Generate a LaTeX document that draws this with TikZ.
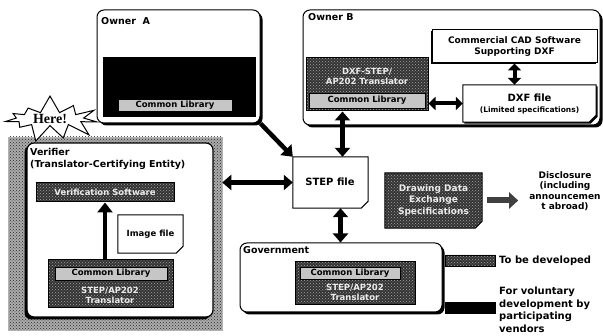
\documentclass[tikz,border=0pt]{standalone}
\usepackage{fontspec}
\setmainfont{DejaVu Sans}
\newfontfamily\herefont{Liberation Serif}
\usetikzlibrary{arrows.meta,shapes.symbols,shadows,fit,patterns}
\newcommand\docdraw[2]{\path[#2] (#1.north west) -- (#1.north east) -- ([yshift=7pt]#1.south east) -- ([xshift=-7pt]#1.south east) -- (#1.south west) -- cycle;}
\begin{document}
\begin{tikzpicture}[x=1pt,y=-1pt,
  every node/.style={font=\bfseries\fontsize{9.5}{11}\selectfont, inner sep=0pt},
  area/.style={draw, line width=1pt, rounded corners=7pt, fill=white,
    drop shadow={shadow xshift=2.5pt, shadow yshift=-2.5pt, opacity=1, fill=black}},
  dev/.style={draw, line width=1pt, preaction={fill=black!80}, pattern=crosshatch dots, pattern color=gray!70},
  vol/.style={draw, line width=1pt, fill=black},
  lib/.style={draw, line width=0.8pt, fill=gray!45, text=black},
  docline/.style={draw, line width=1pt, fill=white},
  ddocline/.style={draw, line width=1pt, preaction={fill=black!80}, pattern=crosshatch dots, pattern color=gray!70},
  lt/.style={text=white!85!gray, font=\bfseries\fontsize{8.5}{10}\selectfont},
  dbl/.style={line width=4.5pt, {Triangle[width=15pt,length=9pt]}-{Triangle[width=15pt,length=9pt]}},
  sdbl/.style={line width=4pt, {Triangle[width=13pt,length=7pt]}-{Triangle[width=13pt,length=7pt]}},
  sgl/.style={line width=4.5pt, -{Triangle[width=15pt,length=10pt]}},
  ]
\useasboundingbox (0,0) rectangle (603,336);

% ---------- Owner A
\node[area, fit={(97,10) (260,123)}] (A) {};
\node[anchor=west] (Alab) at (101,21) {Owner\ \ A};
\node[vol, fit={(103,58) (255,117)}] (Adark) {};
\node[lib, fit={(118,99) (232,111)}] (Alib) {};
\node at (Alib.center) {\fontsize{8.5}{9}\selectfont Common Library};

% ---------- Owner B
\node[area, fit={(303,10) (600,125)}] (B) {};
\node[anchor=west] (Blab) at (308,17) {Owner B};
\node[draw, line width=1pt, fill=white, drop shadow={shadow xshift=-1.5pt, shadow yshift=-1.5pt, opacity=1, fill=black}, fit={(432,30) (597,63)}] (cad) {};
\node[align=center, font=\bfseries\fontsize{9}{11.5}\selectfont] at (cad.center) {Commercial CAD Software\\Supporting DXF};
\node[dev, fit={(306,58) (428,111)}] (Bdark) {};
\node[lt, align=center] at (367,76) {DXF-STEP/\\AP202 Translator};
\node[lib, fit={(309,93) (425,108)}] (Blib) {};
\node at (Blib.center) {\fontsize{8.5}{9}\selectfont Common Library};
\node[fit={(463,85) (596,122)}] (dxf) {};
\docdraw{dxf}{docline, drop shadow={shadow xshift=1.5pt, shadow yshift=-1.5pt, opacity=1, fill=black}}
\node[align=center] at (dxf.center) {{\fontsize{10}{12}\selectfont DXF file}\\{\fontsize{7.5}{9}\selectfont (Limited specifications)}};
\draw[sdbl] (cad.south) -- (cad.south |- dxf.north);
\draw[sdbl] (Bdark.east |- dxf.west) -- (dxf.west);

% ---------- STEP file
\node[fit={(293,157) (368,208)}] (step) {};
\docdraw{step}{docline}
\node[font=\bfseries\fontsize{10}{12}\selectfont] at (330,182) {STEP file};
\coordinate (s1) at ([xshift=12pt]step.north);
\coordinate (s2) at ([xshift=10pt]step.south);
\draw[dbl] (s1 |- Bdark.south) -- (s1);
\draw[sgl] (A.south east) -- (step.north west);

% ---------- Verifier
\node[draw=gray!60, line width=0.5pt, preaction={fill=gray!65}, pattern=crosshatch dots, pattern color=black!85, fit={(8,137) (222,330)}] (ver) {};
\node[draw, line width=1.2pt, rounded corners=7pt, fill=white,
  drop shadow={shadow xshift=-2.5pt, shadow yshift=-2.5pt, opacity=1, fill=black}, fit={(27,143) (213,317)}] (verin) {};
\node[anchor=west] at (30,152) {Verifier};
\node[anchor=west] at (30,165) {(Translator-Certifying Entity)};
\node[dev, fit={(36,183) (174,202)}] (vtop) {};
\node[lt] at (vtop.center) {Verification Software};
\node[fit={(118,215) (183,253)}] (img) {};
\docdraw{img}{docline}
\node at (img.center) {\fontsize{8.5}{9}\selectfont Image file};
\node[dev, fit={(48,260) (173,308)}] (vbot) {};
\node[lib, fit={(55,267) (167,280)}] (vlib) {};
\node at (vlib.center) {\fontsize{8.5}{9}\selectfont Common Library};
\node[lt, align=center] at (110,295) {STEP/AP202\\Translator};
\draw[sgl] (vtop.south |- vbot.north) -- (vtop.south);
\draw[dbl] (ver.east |- step.west) -- (step.west);

% ---------- Government
\node[area, fit={(240,243) (442,312)}] (gov) {};
\node[anchor=west] at (243,250) {Government};
\node[dev, fit={(295,262) (415,305)}] (gdark) {};
\node[lib, fit={(300,267) (400,279)}] (glib) {};
\node at (glib.center) {\fontsize{8.5}{9}\selectfont Common Library};
\node[lt, align=center] at (355,292) {STEP/AP202\\Translator};
\draw[dbl] (s2) -- (s2 |- gov.north);

% ---------- Drawing Data Exchange Specifications
\node[fit={(385,173) (482,228)}] (dd) {};
\docdraw{dd}{ddocline}
\node[lt, align=center, font=\bfseries\fontsize{9}{11.5}\selectfont] at (dd.center) {Drawing Data\\Exchange\\Specifications};
\coordinate (dout) at ([xshift=5pt]dd.east);
\coordinate (dend) at ([xshift=36pt]dd.east);
\draw[line width=6pt, draw=black!75, -{Triangle[width=16pt,length=9pt]}] (dout) -- (dend);
\node[align=center, font=\bfseries\fontsize{9}{10.5}\selectfont] (disc) at (565,191) {Disclosure\\(including\\announcemen\\t abroad)};

% ---------- Legend
\node[dev, line width=0.5pt, fit={(445,255) (495,266)}] (legdev) {};
\node[anchor=west, font=\bfseries\fontsize{10}{11}\selectfont] at (499,260.5) {To be developed};
\node[vol, line width=0.5pt, fit={(445,302) (495,313)}] (legvol) {};
\node[anchor=north west, align=left, font=\bfseries\fontsize{10}{12.5}\selectfont] at (499,287) {For voluntary\\development by\\participating\\vendors};

% ---------- Here! starburst
\node[starburst, starburst points=11, starburst point height=18pt, random starburst=7,
  draw, line width=1pt, fill=white, minimum width=104pt, minimum height=48pt,
  font=\herefont\bfseries\fontsize{14}{14}\selectfont] (here) at (50,119) {Here!};
\end{tikzpicture}
\end{document}
